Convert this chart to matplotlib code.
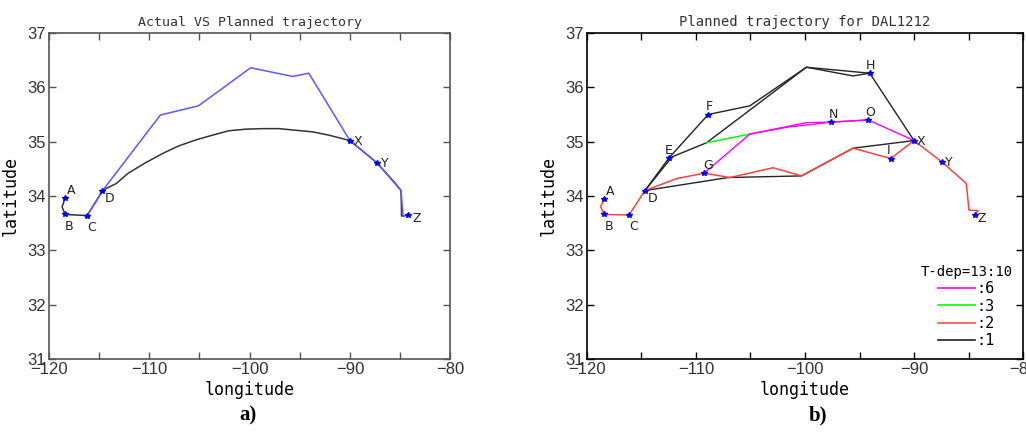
import matplotlib
matplotlib.use("Agg")
import matplotlib.pyplot as plt
from matplotlib.ticker import MultipleLocator
from matplotlib.lines import Line2D

MONO = ["DejaVu Sans Mono"]
TICKF = ["Liberation Sans Narrow", "Liberation Sans", "DejaVu Sans"]

# ---------- panel a data ----------
actual_lon = [-116.2, -114.7, -108.9, -105.1, -99.9, -95.7, -94.1, -90.0, -87.3, -84.9, -84.7, -84.2]
actual_lat = [33.64, 34.09, 35.49, 35.66, 36.36, 36.20, 36.26, 35.02, 34.61, 34.10, 33.63, 33.65]
planned_lon = [-118.4, -118.7, -118.4, -116.2, -114.6, -113.3, -112.1, -110.4, -108.7, -107.1,
               -105.4, -103.7, -102.1, -100.4, -98.7, -97.1, -95.4, -93.7, -92.1, -90.0,
               -87.3, -85.6, -84.9, -84.85, -84.2]
planned_lat = [33.96, 33.80, 33.66, 33.64, 34.11, 34.23, 34.42, 34.61, 34.78, 34.92,
               35.03, 35.12, 35.20, 35.23, 35.24, 35.24, 35.21, 35.18, 35.12, 35.02,
               34.61, 34.26, 34.10, 33.63, 33.65]
a_names = ["A", "B", "C", "D", "X", "Y", "Z"]
a_lon = [-118.4, -118.4, -116.2, -114.7, -90.0, -87.3, -84.2]
a_lat = [33.96, 33.66, 33.64, 34.09, 35.02, 34.61, 33.65]
a_off = [(1, 3), (0, -11), (0, -11), (2, -8), (3, -3), (3, -3), (3, -5)]

# ---------- panel b data ----------
b_names = ["A", "B", "C", "D", "E", "F", "G", "H", "N", "O", "I", "X", "Y", "Z"]
b_lon = [-118.41, -118.41, -116.15, -114.68, -112.48, -108.88, -109.25, -94.06, -97.57, -94.21, -92.14, -90.0, -87.40, -84.44]
b_lat = [33.95, 33.66, 33.65, 34.10, 34.70, 35.50, 34.42, 36.26, 35.36, 35.40, 34.69, 35.02, 34.62, 33.65]
b_off = [(1, 3), (0, -11), (0, -11), (2, -8), (-3, 3), (-2, 3), (-1, 3), (-3, 3), (-2, 3), (-2, 3), (-3, 3), (2, -3), (2, -3), (2, -5)]

black_paths = [
    ([-114.68, -112.48, -108.88, -105.06, -99.87, -94.06, -90.0],
     [34.10, 34.70, 35.50, 35.66, 36.37, 36.26, 35.02]),
    ([-114.68, -112.2, -109.03, -99.87, -95.59, -94.06],
     [34.10, 34.72, 34.98, 36.37, 36.21, 36.26]),
    ([-114.68, -107.05, -100.32, -95.59, -90.0],
     [34.10, 34.34, 34.37, 34.88, 35.02]),
]
red_lon = [-118.41, -118.75, -118.41, -116.15, -114.68, -111.78, -109.25, -106.89, -102.92, -100.32,
           -95.59, -92.14, -90.0, -87.40, -85.20, -84.96, -84.13, -84.44]
red_lat = [33.95, 33.80, 33.66, 33.65, 34.10, 34.32, 34.42, 34.34, 34.52, 34.37,
           34.88, 34.69, 35.02, 34.62, 34.23, 33.74, 33.73, 33.65]
green_lon = [-109.03, -105.06]
green_lat = [34.98, 35.14]
magenta_paths = [
    ([-109.25, -105.06, -99.87, -97.57, -94.21, -90.0],
     [34.42, 35.14, 35.35, 35.36, 35.40, 35.02]),
    ([-105.06, -101.5, -97.57, -95.9, -94.21],
     [35.14, 35.27, 35.36, 35.38, 35.40]),
]
legend_labels = [":6", ":3", ":2", ":1"]
legend_colors = ["#ff00ff", "#00ff00", "#ff5050", "#222222"]


def style_axes(ax, spine_color):
    ax.set_xlim(-120, -80)
    ax.set_ylim(31, 37)
    ax.xaxis.set_major_locator(MultipleLocator(10))
    ax.xaxis.set_minor_locator(MultipleLocator(5))
    ax.yaxis.set_major_locator(MultipleLocator(1))
    ax.tick_params(which="both", direction="in", top=True, right=True,
                   length=5, width=1, color=spine_color, labelsize=12, pad=2)
    for lab in ax.get_xticklabels() + ax.get_yticklabels():
        lab.set_family(TICKF)
        lab.set_color("#333333")
    for s in ax.spines.values():
        s.set_color(spine_color)
        s.set_linewidth(1.2)
    ax.set_xlabel("longitude", family=MONO, fontsize=12, labelpad=3)
    ax.set_ylabel("latitude", family=MONO, fontsize=12, labelpad=6)


fig = plt.figure(figsize=(10.26, 4.36), dpi=100)
ax1 = fig.add_axes([0.0478, 0.1766, 0.391, 0.7477])
ax2 = fig.add_axes([0.5721, 0.1766, 0.425, 0.7477])

# panel a
ax1.plot(planned_lon, planned_lat, color="#333333", lw=1.1)
ax1.plot(actual_lon, actual_lat, color="#5a5aff", lw=1.1)
ax1.plot(a_lon, a_lat, "*", color="#0000ff", ms=4)
for n, x, y, o in zip(a_names, a_lon, a_lat, a_off):
    ax1.annotate(n, (x, y), xytext=o, textcoords="offset points", fontsize=9, color="#222222")
style_axes(ax1, "#555555")
ax1.set_title("Actual VS Planned trajectory", family=MONO, fontsize=9.5, pad=5, color="#333333")
fig.text(0.242, 0.035, "a)", family="Liberation Serif", weight="bold", fontsize=15, ha="center")

# panel b
for lon, lat in black_paths:
    ax2.plot(lon, lat, color="#222222", lw=1.0)
ax2.plot(red_lon, red_lat, color="#ff4040", lw=1.1)
ax2.plot(green_lon, green_lat, color="#00ff00", lw=1.1)
for lon, lat in magenta_paths:
    ax2.plot(lon, lat, color="#ff00ff", lw=1.0)
ax2.plot(b_lon, b_lat, "*", color="#0000ff", ms=4)
for n, x, y, o in zip(b_names, b_lon, b_lat, b_off):
    ax2.annotate(n, (x, y), xytext=o, textcoords="offset points", fontsize=9, color="#222222")
style_axes(ax2, "#000000")
ax2.set_title("Planned trajectory for DAL1212", family=MONO, fontsize=10, pad=5, color="#333333")
handles = [Line2D([], [], color=c, lw=1.2) for c in legend_colors]
leg = ax2.legend(handles, legend_labels, title="T-dep=13:10", loc="lower right",
                 bbox_to_anchor=(1.0, 0.0), frameon=False, handlelength=2.4,
                 handletextpad=0.1, labelspacing=0.15, borderaxespad=0.3,
                 prop={"family": MONO, "size": 11})
leg.get_title().set_family(MONO)
leg.get_title().set_fontsize(10)
fig.text(0.797, 0.035, "b)", family="Liberation Serif", weight="bold", fontsize=15, ha="center")

fig.savefig("out.png", dpi=100)
